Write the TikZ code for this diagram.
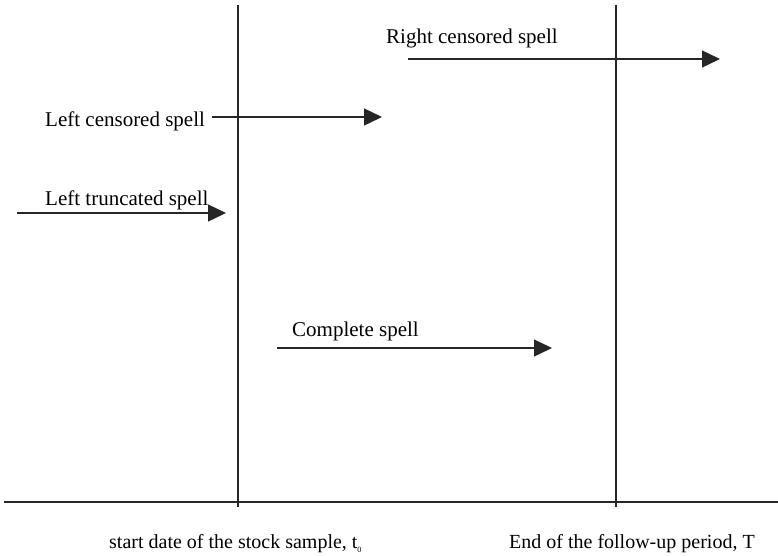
\documentclass[tikz,border=0pt]{standalone}
\usepackage{fontspec}
\setmainfont{Liberation Serif}
\usetikzlibrary{arrows.meta}
\begin{document}
\begin{tikzpicture}[x=1pt,y=-1pt,
  lbl/.style={anchor=base west,inner sep=0pt,font=\fontsize{21}{25}\selectfont},
  datelbl/.style={lbl,font=\fontsize{20}{24}\selectfont},
  axisline/.style={line width=1.3pt,draw=black!85},
  spell/.style={line width=1.3pt,draw=black!85,-{Triangle[length=18pt,width=17pt]}}]
\useasboundingbox (0,0) rectangle (778,556);
% axis and the two dates
\coordinate (axL) at (4,502);
\coordinate (axR) at (778,502);
\coordinate (t0top) at (238,5);
\coordinate (t0bot) at (238,507);
\coordinate (Ttop) at (616,5);
\coordinate (Tbot) at (616,507);
\draw[axisline] (axL) -- (axR);
\draw[axisline] (t0top) -- (t0bot);
\draw[axisline] (Ttop) -- (Tbot);
% spells
\coordinate (rcS) at (408,59);  \coordinate (rcE) at (720,59);
\coordinate (lcS) at (212,117); \coordinate (lcE) at (382,117);
\coordinate (ltS) at (17,213);  \coordinate (ltE) at (226,213);
\coordinate (cpS) at (277,348); \coordinate (cpE) at (552,348);
\draw[spell] (rcS) -- (rcE);
\draw[spell] (lcS) -- (lcE);
\draw[spell] (ltS) -- (ltE);
\draw[spell] (cpS) -- (cpE);
% labels
\node[lbl] (rc) at (386,44) {Right censored spell};
\node[lbl] (lc) at (45,127) {Left censored spell};
\node[lbl] (lt) at (45,205) {Left truncated spell};
\node[lbl] (cp) at (292,336) {Complete spell};
\node[datelbl] (t0) at (109,548) {start date of the stock sample, t\raisebox{-4pt}{\fontsize{8}{8}\selectfont 0}};
\node[datelbl] (T) at (509,548) {End of the follow-up period, T};
\end{tikzpicture}
\end{document}
